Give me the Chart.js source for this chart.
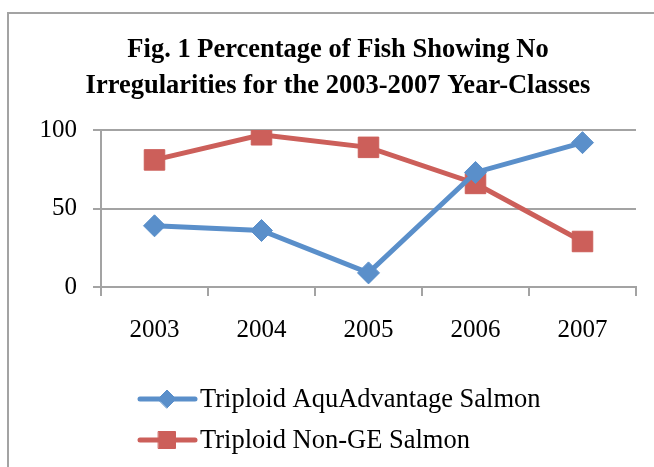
<!DOCTYPE html>
<html>
<head>
<meta charset="utf-8">
<script src="https://cdn.jsdelivr.net/npm/chart.js@4.4.1/dist/chart.umd.min.js"></script>
<style>
  html, body { margin: 0; padding: 0; background: #fff; }
  #wrap { width: 654px; height: 467px; position: relative; }
</style>
</head>
<body>
<div id="wrap"><canvas id="fishChart" width="654" height="467"></canvas></div>
<script>
const years = ["2003", "2004", "2005", "2006", "2007"];
const aquAdvantage = [39, 36, 9, 73, 92];
const nonGE = [81, 97, 89, 66, 29];
const titleLines = [
  "Fig. 1 Percentage of Fish Showing No",
  "Irregularities for the 2003-2007 Year-Classes"
];

const BLUE = "#5A8FCA";
const RED = "#CC5F5A";
const GRID = "#A3A3A3";
const SERIF = "'Liberation Serif', 'Times New Roman', serif";

// grey frame around the chart (runs off the right and bottom edges)
const framePlugin = {
  id: "frame",
  beforeDraw(chart) {
    const { ctx } = chart;
    ctx.save();
    ctx.strokeStyle = GRID;
    ctx.lineWidth = 2;
    ctx.strokeRect(8, 13, 700, 500);
    ctx.restore();
  }
};

// vertical legend, line + marker like the spreadsheet one
const stackedLegend = {
  id: "stackedLegend",
  afterDraw(chart) {
    const { ctx } = chart;
    const rows = [399, 440];
    ctx.save();
    chart.data.datasets.forEach((ds, i) => {
      const y = rows[i];
      ctx.strokeStyle = ds.borderColor;
      ctx.lineWidth = 5;
      ctx.lineCap = "round";
      ctx.beginPath();
      ctx.moveTo(140, y);
      ctx.lineTo(195, y);
      ctx.stroke();
      ctx.fillStyle = ds.borderColor;
      ctx.strokeStyle = ds.borderColor;
      ctx.lineWidth = 1;
      Chart.helpers.drawPoint(ctx, {
        pointStyle: ds.pointStyle,
        radius: ds.pointStyle === "rect" ? 12 : 9,
        borderWidth: 1
      }, 167, y);
      ctx.fillStyle = "#000";
      ctx.font = "26.5px " + SERIF;
      ctx.textBaseline = "middle";
      ctx.textAlign = "left";
      ctx.fillText(ds.label, 200, y + 1);
    });
    ctx.restore();
  }
};

new Chart(document.getElementById("fishChart"), {
  type: "line",
  data: {
    labels: years,
    datasets: [
      {
        label: "Triploid AquAdvantage Salmon",
        data: aquAdvantage,
        borderColor: BLUE,
        backgroundColor: BLUE,
        borderWidth: 5,
        pointStyle: "rectRot",
        pointRadius: 11,
        pointBorderWidth: 1,
        tension: 0
      },
      {
        label: "Triploid Non-GE Salmon",
        data: nonGE,
        borderColor: RED,
        backgroundColor: RED,
        borderWidth: 5,
        pointStyle: "rect",
        pointRadius: 14.5,
        pointBorderWidth: 1,
        tension: 0
      }
    ]
  },
  plugins: [framePlugin, stackedLegend],
  options: {
    responsive: false,
    animation: false,
    devicePixelRatio: 1,
    // left padding nudges the centred title to where the original sits
    layout: { padding: { left: 40, right: 18, top: 0, bottom: 120 } },
    scales: {
      x: {
        offset: true,
        afterFit: (s) => { s.height = 60; },
        grid: {
          offset: true,
          drawOnChartArea: false,
          drawTicks: true,
          tickLength: 9,
          color: GRID,
          lineWidth: 2
        },
        border: { display: true, color: GRID, width: 2 },
        ticks: {
          color: "#000",
          padding: 19,
          font: { family: SERIF, size: 25 }
        }
      },
      y: {
        min: 0,
        max: 100,
        afterFit: (s) => { s.width = 61; },
        ticks: {
          stepSize: 50,
          color: "#000",
          padding: 16,
          font: { family: SERIF, size: 25 }
        },
        grid: {
          color: GRID,
          lineWidth: 2,
          tickLength: 8
        },
        border: { display: true, color: GRID, width: 2 }
      }
    },
    plugins: {
      legend: { display: false },
      tooltip: { enabled: false },
      title: {
        display: true,
        text: titleLines,
        color: "#000",
        font: { family: SERIF, size: 26.5, weight: "bold", lineHeight: 1.36 },
        padding: { top: 32, bottom: 26 }
      }
    }
  }
});
</script>
</body>
</html>
